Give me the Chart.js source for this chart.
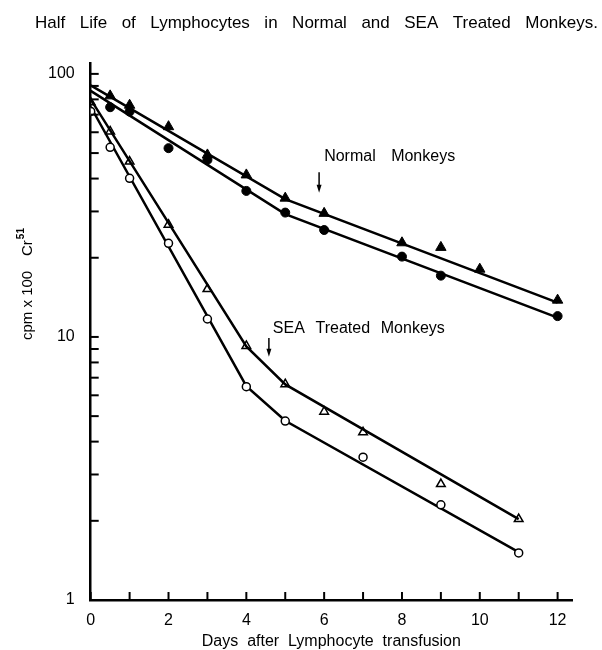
<!DOCTYPE html>
<html><head><meta charset="utf-8">
<script src="https://cdn.jsdelivr.net/npm/chart.js@4/dist/chart.umd.min.js"></script>
<style>html,body{margin:0;padding:0;background:#fff}</style>
</head><body>
<canvas id="c" width="602" height="650"></canvas>
<script>
// ---- text ----
const chartTitle = 'Half Life of Lymphocytes in Normal and SEA Treated Monkeys.';
const xTitle = 'Days  after  Lymphocyte  transfusion';
const yTitleMain = 'cpm x 100';
const yTitleIso = 'Cr';
const yTitleSup = '51';

// ---- measured points (days, cpm x 100) ----
const normalTriDays  = [0.5, 1, 2, 3, 4, 5, 6, 8, 9, 10, 12];
const normalTriVals  = [82.5, 76, 63, 49.2, 41.3, 33.7, 29.5, 22.8, 21.9, 18.1, 13.8];
const normalCircDays = [0.5, 1, 2, 3, 4, 5, 6, 8, 9, 12];
const normalCircVals = [74.7, 71.9, 52.2, 47.1, 35.9, 29.7, 25.5, 20.2, 17.1, 12.0];
const seaTriDays  = [0, 0.5, 1, 2, 3, 4, 5, 6, 7, 9, 11];
const seaTriVals  = [78, 60.4, 46.4, 26.7, 15.2, 9.24, 6.61, 5.2, 4.34, 2.76, 2.03];
const seaCircDays = [0, 0.5, 1, 2, 3, 4, 5, 7, 9, 11];
const seaCircVals = [72, 52.6, 40.1, 22.7, 11.7, 6.47, 4.79, 3.49, 2.30, 1.51];

// ---- fitted lines drawn in the figure ----
const normalTriFitDays  = [0, 5, 12];
const normalTriFitVals  = [90.4, 33.4, 13.5];
const normalCircFitDays = [0, 5, 12];
const normalCircFitVals = [86.2, 29.3, 11.85];
const seaTriFitDays  = [0, 4, 5, 11];
const seaTriFitVals  = [80, 9.2, 6.6, 2.03];
const seaCircFitDays = [0, 4, 5, 11];
const seaCircFitVals = [75, 6.5, 4.8, 1.52];

// ---- ticks ----
const xTickValues  = [0,1,2,3,4,5,6,7,8,9,10,11,12];
const xLabelValues = [0,2,4,6,8,10,12];
const yTickValues  = [1,2,3,4,5,6,7,8,9,10,20,30,40,50,60,70,80,90,100];
const yLabelValues = [1,10,100];

// ---- annotations (label text, label anchor day/value, arrow day, arrow from/to value) ----
const noteTexts     = ['Normal  Monkeys', 'SEA  Treated  Monkeys'];
const noteDays      = [6.0, 4.68];
const noteVals      = [48.4, 10.8];
const arrowDays     = [5.87, 4.58];
const arrowFromVals = [42.3, 9.9];
const arrowToVals   = [35.3, 8.4];

const F = "'Liberation Sans', Arial, sans-serif";
const pts = (xs, ys) => xs.map((d, i) => ({x: d, y: ys[i]}));

function spacedText(ctx, text, x0, x1, y) {
  const words = text.split(/\s+/);
  const widths = words.map(w => ctx.measureText(w).width);
  const sum = widths.reduce((a, b) => a + b, 0);
  const gap = words.length > 1 ? (x1 - x0 - sum) / (words.length - 1) : 0;
  let x = x0;
  words.forEach((w, i) => { ctx.fillText(w, x, y); x += widths[i] + gap; });
}

const deco = {
  id: 'deco',
  afterDraw(chart) {
    const {ctx, scales: {x, y}, chartArea: a} = chart;
    ctx.save();
    ctx.strokeStyle = '#000'; ctx.fillStyle = '#000';
    ctx.lineWidth = 2;
    xTickValues.forEach(v => {
      const px = x.getPixelForValue(v);
      ctx.beginPath(); ctx.moveTo(px, a.bottom); ctx.lineTo(px, a.bottom - 8); ctx.stroke();
    });
    yTickValues.forEach(v => {
      const py = y.getPixelForValue(v);
      ctx.beginPath(); ctx.moveTo(a.left, py); ctx.lineTo(a.left + 8, py); ctx.stroke();
    });
    // title
    ctx.font = '17px ' + F;
    ctx.textBaseline = 'middle'; ctx.textAlign = 'left';
    spacedText(ctx, chartTitle, 35, 598, 23);
    // annotations
    ctx.font = '16px ' + F;
    const noteWidths = [131, 172];
    noteTexts.forEach((t, i) => {
      const tx = x.getPixelForValue(noteDays[i]);
      const ty = y.getPixelForValue(noteVals[i]);
      spacedText(ctx, t, tx, tx + noteWidths[i], ty);
      const ax = x.getPixelForValue(arrowDays[i]);
      const ay0 = y.getPixelForValue(arrowFromVals[i]);
      const ay1 = y.getPixelForValue(arrowToVals[i]);
      ctx.lineWidth = 1.5;
      ctx.beginPath(); ctx.moveTo(ax, ay0); ctx.lineTo(ax, ay1 - 6); ctx.stroke();
      ctx.beginPath(); ctx.moveTo(ax - 2.5, ay1 - 8); ctx.lineTo(ax + 2.5, ay1 - 8); ctx.lineTo(ax, ay1); ctx.closePath(); ctx.fill();
    });
    // y title (rotated)
    ctx.save();
    ctx.translate(28, 340);
    ctx.rotate(-Math.PI / 2);
    ctx.font = '15px ' + F;
    ctx.textBaseline = 'middle';
    ctx.fillText(yTitleMain, 0, 0);
    ctx.fillText(yTitleIso, 84, 0);
    const cw = ctx.measureText(yTitleIso).width;
    ctx.font = 'bold 10px ' + F;
    ctx.fillText(yTitleSup, 84 + cw + 1, -7);
    ctx.restore();
    ctx.restore();
  }
};

const fitStyle = {showLine: true, borderColor: '#000', borderWidth: 2.5, pointRadius: 0, fill: false, tension: 0, order: 2};

new Chart(document.getElementById('c'), {
  type: 'scatter',
  data: {
    datasets: [
      {label: 'Normal (triangles)', data: pts(normalTriDays, normalTriVals), pointStyle: 'triangle', pointRadius: 6, backgroundColor: '#000', borderColor: '#000', borderWidth: 1, order: 1},
      {label: 'Normal (circles)', data: pts(normalCircDays, normalCircVals), pointStyle: 'circle', pointRadius: 4.5, backgroundColor: '#000', borderColor: '#000', borderWidth: 1, order: 1},
      {label: 'SEA (triangles)', data: pts(seaTriDays, seaTriVals), pointStyle: 'triangle', pointRadius: 5, backgroundColor: 'rgba(0,0,0,0)', borderColor: '#000', borderWidth: 1.5, order: 1},
      {label: 'SEA (circles)', data: pts(seaCircDays, seaCircVals), pointStyle: 'circle', pointRadius: 4, backgroundColor: '#fff', borderColor: '#000', borderWidth: 1.5, order: 1},
      Object.assign({label: 'Normal fit A', data: pts(normalTriFitDays, normalTriFitVals)}, fitStyle),
      Object.assign({label: 'Normal fit B', data: pts(normalCircFitDays, normalCircFitVals)}, fitStyle),
      Object.assign({label: 'SEA fit A', data: pts(seaTriFitDays, seaTriFitVals)}, fitStyle),
      Object.assign({label: 'SEA fit B', data: pts(seaCircFitDays, seaCircFitVals)}, fitStyle)
    ]
  },
  options: {
    responsive: false, animation: false, devicePixelRatio: 1,
    layout: {padding: {top: 63, right: 30, left: 0, bottom: 0}},
    plugins: {legend: {display: false}, tooltip: {enabled: false}, title: {display: false}},
    scales: {
      x: {
        type: 'linear', min: 0, max: 12.37,
        afterFit(s) { s.height = 50; },
        grid: {display: true, drawOnChartArea: false, drawTicks: false},
        border: {display: true, width: 2.5, color: '#000'},
        ticks: {stepSize: 1, includeBounds: false, autoSkip: false, maxRotation: 0, padding: 11, color: '#000', font: {family: F, size: 16},
          callback: v => xLabelValues.includes(v) ? String(v) : ''},
        title: {display: true, text: xTitle, color: '#000', font: {family: F, size: 16, lineHeight: 1}, padding: {top: 0, bottom: 0}}
      },
      y: {
        type: 'logarithmic', min: 1, max: 110,
        afterFit(s) { s.width = 90.7; },
        grid: {display: true, drawOnChartArea: false, drawTicks: false},
        border: {display: true, width: 2.5, color: '#000'},
        ticks: {autoSkip: false, padding: 16, color: '#000', font: {family: F, size: 16},
          callback: v => yLabelValues.some(l => Math.abs(l - v) < 1e-6) ? String(Math.round(v)) : ''}
      }
    }
  },
  plugins: [deco]
});
</script>
</body></html>
